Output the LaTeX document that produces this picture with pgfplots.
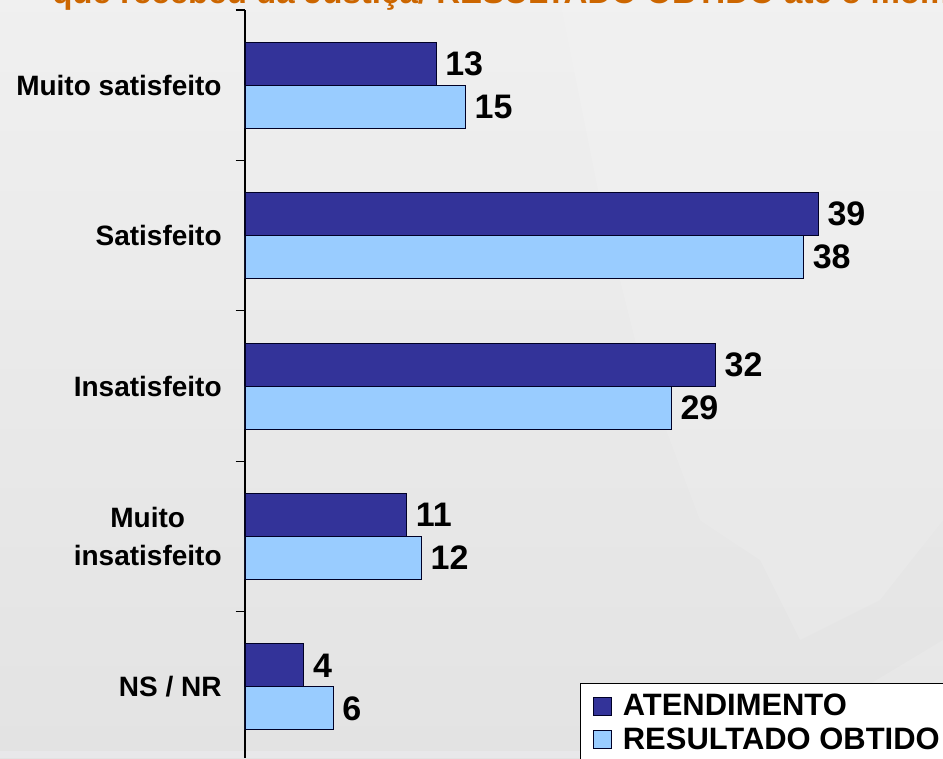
\documentclass[border=0pt]{standalone}
\usepackage{pgfplots}
\pgfplotsset{compat=1.18}
\usepackage{fontspec}
\setmainfont{Liberation Sans}
\usepackage{pgfplotstable}
\pgfplotstableread{
idx atend result
0 13 15
1 39 38
2 32 29
3 11 12
4 4 6
}\datatable
\definecolor{dk}{HTML}{333399}
\definecolor{lt}{HTML}{99CCFF}
\definecolor{ttl}{HTML}{CC6600}
\begin{document}
\begin{tikzpicture}
\path[use as bounding box,clip] (0,0) rectangle (707.25pt,568.5pt);
\begin{scope}[x=0.75pt,y=-0.75pt,shift={(0pt,568.5pt)}]
\shade[top color=black!6,bottom color=black!11] (0,0) rectangle (943,758);
\fill[white,opacity=.12] (560,0) -- (943,0) -- (943,520) -- (880,600) -- (800,640) -- (760,560) -- (700,520) -- (640,360) -- (600,200) -- cycle;
\fill[white,opacity=.12] (943,640) -- (860,690) -- (860,758) -- (943,758) -- cycle;
\fill[white!85!blue!30!black!12] (0,751) rectangle (943,758);
\node[anchor=base west,inner sep=0pt,text=ttl,font=\fontsize{24.8pt}{26pt}\selectfont\bfseries] at (52,4) {que recebeu da Justiça/ RESULTADO OBTIDO até o momento};
\end{scope}
\begin{axis}[
  at={(183.75pt,0pt)},anchor=south west,
  scale only axis,
  width=523.5pt,height=561pt,
  xmin=0,xmax=47.48,
  ymin=-0.5,ymax=4.473,
  y dir=reverse,
  axis y line*=left,
  axis x line=none,
  axis line style={black,line width=0.9pt,-},
  xbar,
  ytick={0,1,2,3,4},
  yticklabels={Muito satisfeito,Satisfeito,Insatisfeito,{Muito\\insatisfeito},NS / NR},
  yticklabel style={align=center,font=\fontsize{21pt}{28pt}\selectfont\bfseries,xshift=-14pt},
  major tick length=0pt,
  minor ytick={-0.5,0.5,1.5,2.5,3.5},
  minor tick length=7pt,
  tick style={black,line width=0.8pt},
  tick align=outside,
  nodes near coords={\pgfmathprintnumber[assume math mode=true]{\pgfplotspointmeta}},
  every node near coord/.append style={font=\fontsize{25.5pt}{27pt}\selectfont\bfseries,black,anchor=west,inner sep=0pt,xshift=6.5pt},
  bar width=32.25pt,
  legend style={at={(0.48,0.1003)},anchor=north west,draw=black,line width=0.8pt,fill=white,
    font=\fontsize{23.2pt}{25pt}\selectfont\bfseries,
    legend cell align=left,inner xsep=9.5pt,inner ysep=6pt,row sep=3.5pt},
  area legend,
  legend image code/.code={\draw[#1,line width=0.7pt] (0pt,-6.75pt) rectangle (13.5pt,6.75pt);\path (19.5pt,0pt);},
]
\addplot[fill=dk,draw=black!85!blue,line width=0.8pt,bar shift=16.125pt] table[x=atend,y=idx]{\datatable};
\addplot[fill=lt,draw=black!85!blue,line width=0.8pt,bar shift=-16.125pt] table[x=result,y=idx]{\datatable};
\legend{ATENDIMENTO,RESULTADO OBTIDO}
\end{axis}
\end{tikzpicture}
\end{document}
